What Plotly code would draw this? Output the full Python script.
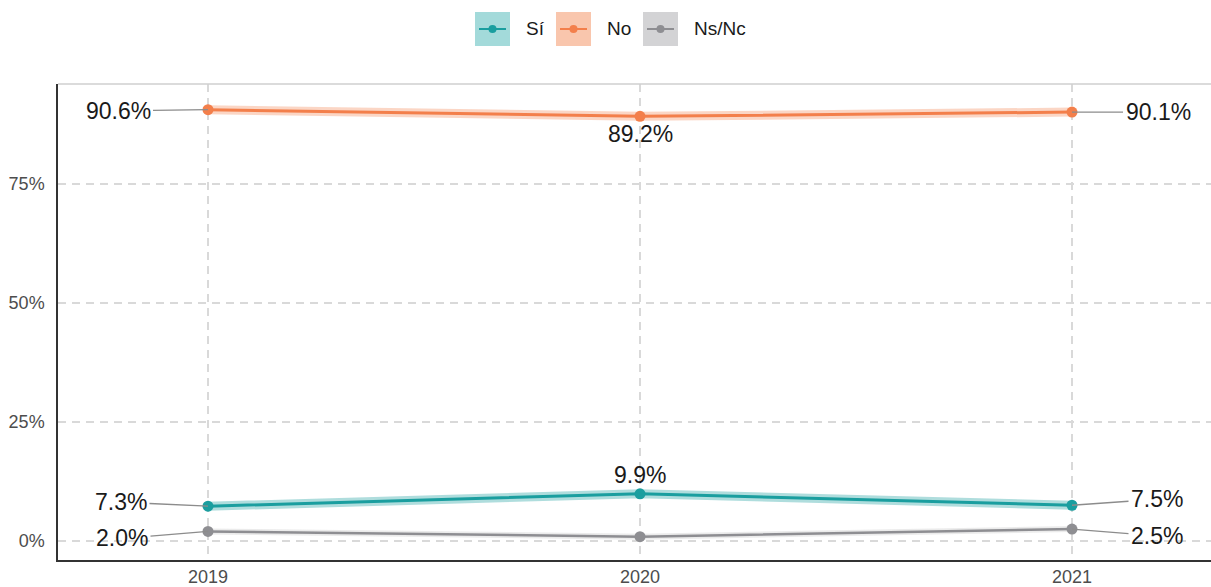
import plotly.graph_objects as go

# ---------------- data ----------------
years = [2019, 2020, 2021]
series_names = ["Sí", "No", "Ns/Nc"]
si_values = [7.3, 9.9, 7.5]
no_values = [90.6, 89.2, 90.1]
nsnc_values = [2.0, 0.9, 2.5]
y_tick_values = [0, 25, 50, 75]
y_tick_labels = ["0%", "25%", "50%", "75%"]
x_tick_labels = ["2019", "2020", "2021"]

values = {"Sí": si_values, "No": no_values, "Ns/Nc": nsnc_values}

# ---------------- style ----------------
W, H = 1211, 587
ML, MR, MT, MB = 58, 0, 84, 27
core = {"Sí": "#1A9E9F", "No": "#F37F4B", "Ns/Nc": "#8E8E92"}
halo = {"Sí": "rgba(26,158,159,0.35)", "No": "rgba(243,127,75,0.32)", "Ns/Nc": "rgba(142,142,146,0.18)"}
key_bg = {"Sí": "#A3DADA", "No": "#F9C6AD", "Ns/Nc": "#D3D3D5"}
FONT = "Liberation Sans, Arial, Helvetica, sans-serif"

# label placement: (ax, ay) for first / last year, yshift for middle year (None = hidden)
left_off = {"Sí": (-87, -4), "No": (-90, 1), "Ns/Nc": (-86, 7)}
right_off = {"Sí": (85, -6), "No": (86, 0), "Ns/Nc": (85, 7)}
mid_shift = {"Sí": 19, "No": -18, "Ns/Nc": None}

fig = go.Figure()

for name in series_names:
    v = values[name]
    fig.add_trace(go.Scatter(x=years, y=v, mode="lines",
                             line=dict(color=halo[name], width=9 if name != "Ns/Nc" else 6),
                             hoverinfo="skip", showlegend=False))
    fig.add_trace(go.Scatter(x=years, y=v, mode="lines+markers", name=name,
                             line=dict(color=core[name], width=3 if name != "Ns/Nc" else 2.5),
                             marker=dict(color=core[name], size=11),
                             showlegend=False))

annotations = []
lab_font = dict(family=FONT, size=23, color="#1A1A1A")
for name in series_names:
    v = values[name]
    for i, (x, y) in enumerate(zip(years, v)):
        text = f"{y:.1f}%"
        if i == 0 or i == len(years) - 1:
            ax, ay = left_off[name] if i == 0 else right_off[name]
            annotations.append(dict(x=x, y=y, xref="x", yref="y", text=text,
                                    showarrow=True, arrowhead=0, arrowwidth=1.3,
                                    arrowcolor="#8C8C8C", ax=ax, ay=ay,
                                    font=lab_font, borderpad=2))
        else:
            if mid_shift[name] is None:
                continue
            annotations.append(dict(x=x, y=y, xref="x", yref="y", text=text,
                                    showarrow=False, yshift=mid_shift[name],
                                    font=lab_font))

# ---------------- manual legend ----------------
PW, PH = W - ML - MR, H - MT - MB


def px(xp):
    return (xp - ML) / PW


def py(yp):
    return (H - MB - yp) / PH


shapes = []
key_x = [475, 556, 643]
text_x = [524, 605, 692]
ky0, ky1, kyc = 12, 46, 29
for name, kx, tx in zip(series_names, key_x, text_x):
    shapes.append(dict(type="rect", xref="paper", yref="paper",
                       x0=px(kx), x1=px(kx + 35), y0=py(ky1), y1=py(ky0),
                       fillcolor=key_bg[name], line=dict(width=0), layer="above"))
    shapes.append(dict(type="line", xref="paper", yref="paper",
                       x0=px(kx + 4), x1=px(kx + 31), y0=py(kyc), y1=py(kyc),
                       line=dict(color=core[name], width=2), layer="above"))
    shapes.append(dict(type="circle", xref="paper", yref="paper",
                       x0=px(kx + 13.5), x1=px(kx + 21.5), y0=py(kyc + 4), y1=py(kyc - 4),
                       fillcolor=core[name], line=dict(width=0), layer="above"))
    annotations.append(dict(x=px(tx), y=py(kyc), xref="paper", yref="paper",
                            text=name, showarrow=False, xanchor="left", yanchor="middle",
                            font=dict(family=FONT, size=19, color="#1A1A1A")))

# top panel border
shapes.append(dict(type="line", xref="paper", yref="paper", x0=0, x1=1, y0=1, y1=1,
                   line=dict(color="#CFCFCF", width=1.5)))

x_lo = years[0] - (208 - ML) / 432
x_hi = years[-1] + (W - MR - 1072) / 432

grid = dict(showgrid=True, gridcolor="#D9D9D9", gridwidth=1.5, griddash="8px,6px")

fig.update_layout(
    width=W, height=H,
    margin=dict(l=ML, r=MR, t=MT, b=MB, autoexpand=False),
    plot_bgcolor="white", paper_bgcolor="white",
    showlegend=False,
    annotations=annotations, shapes=shapes,
    font=dict(family=FONT),
    xaxis=dict(range=[x_lo, x_hi], tickvals=years, ticktext=x_tick_labels, **grid,
               zeroline=False, showline=True, linecolor="#333333", linewidth=1.5,
               ticks="", tickfont=dict(family=FONT, size=18, color="#4D4D4D"),
               ticklabelstandoff=0, automargin=False),
    yaxis=dict(range=[-4, 96], tickvals=y_tick_values, ticktext=y_tick_labels, **grid,
               zeroline=False, showline=True, linecolor="#333333", linewidth=1.5,
               ticks="", tickfont=dict(family=FONT, size=18, color="#4D4D4D"),
               ticklabelstandoff=8, automargin=False),
)

fig.write_html("out.html", config={"displayModeBar": False},
               post_script="document.body.style.margin='0';document.body.style.overflow='hidden';")
